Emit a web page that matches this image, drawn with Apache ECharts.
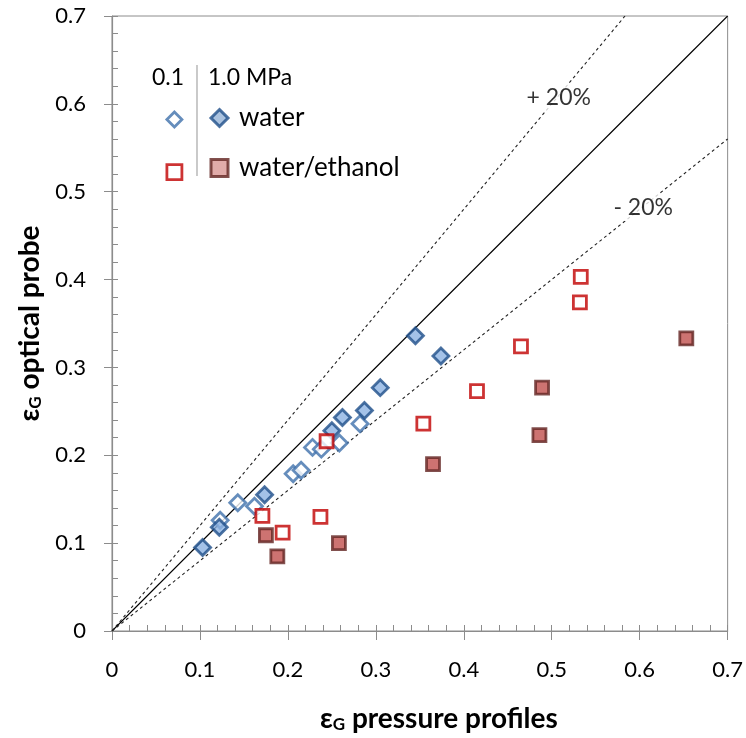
<!DOCTYPE html>
<html><head><meta charset="utf-8">
<script src="https://cdn.jsdelivr.net/npm/echarts@6/dist/echarts.min.js"></script>
<style>html,body{margin:0;padding:0;background:#fff}#c{width:746px;height:738px}</style>
</head><body><div id="c"></div>
<script>
// Data
const water01 = [[0.123,0.126],[0.143,0.146],[0.162,0.142],[0.206,0.179],[0.215,0.183],[0.228,0.209],[0.238,0.207],[0.2585,0.214],[0.282,0.236]];
const water10 = [[0.103,0.095],[0.122,0.118],[0.1735,0.155],[0.250,0.228],[0.262,0.243],[0.287,0.251],[0.305,0.277],[0.345,0.336],[0.374,0.313]];
const ethanol01 = [[0.171,0.131],[0.194,0.112],[0.237,0.130],[0.244,0.216],[0.354,0.236],[0.415,0.273],[0.465,0.324],[0.532,0.374],[0.533,0.403]];
const ethanol10 = [[0.175,0.109],[0.188,0.085],[0.258,0.100],[0.365,0.190],[0.486,0.223],[0.489,0.277],[0.653,0.333]];
const parityLine = [[0,0],[0.7,0.7]];
const plus20Line = [[0,0],[0.5833,0.7]];
const minus20Line = [[0,0],[0.7,0.56]];
const annotations = [{value:[0.508,0.607], text:'+ 20%'},{value:[0.604,0.482], text:'- 20%'}];
const axisMin = 0, axisMax = 0.7, majorStep = 0.1, minorStep = 0.02;

const FONT = 'Lato, "Open Sans", sans-serif';
const chart = echarts.init(document.getElementById('c'));
const openDiamond = {color:'#ffffff', borderColor:'#3f70ab', borderWidth:2.8};
const fillDiamond = {color:'#8db3e2', borderColor:'#1f4f8a', borderWidth:2.8};
const openSquare = {color:'#ffffff', borderColor:'#c00000', borderWidth:2.8};
const fillSquare = {color:'#c0504d', borderColor:'#632523', borderWidth:2.8};
const legFillDiamond = {color:'#95b3d7', borderColor:'#1f4f8a', borderWidth:3};
const legFillSquare = {color:'#d99694', borderColor:'#632523', borderWidth:3};

const gridCfg = {left:112, right:17, top:16, bottom:102, show:true, borderColor:'#8c8c8c', borderWidth:1};
const axisLineCfg = {lineStyle:{color:'#8c8c8c', width:1.2}};
const titleRich = {e:{fontFamily:FONT,fontSize:28,fontWeight:'bold',color:'#000'},
    s:{fontFamily:FONT,fontSize:17,fontWeight:'bold',color:'#000',padding:[12,0,0,0]},
    t:{fontFamily:FONT,fontSize:28,fontWeight:'bold',color:'#000'}};
const option = {
  animation:false,
  grid:gridCfg,
  xAxis:[{type:'value', min:axisMin, max:axisMax, interval:majorStep,
    axisLine:axisLineCfg, axisTick:{show:true, inside:false, length:9, lineStyle:{color:'#8c8c8c'}},
    splitLine:{show:false}, axisLabel:{fontFamily:FONT, fontSize:22, color:'#000', margin:28,
    formatter:v=>v===0?'0':v.toFixed(1)},
    name:'{e|ε}{s|G}{t| pressure profiles}', nameLocation:'middle', nameGap:73,
    nameTextStyle:{rich:titleRich, padding:[0,0,0,38]}},
    {type:'value', min:axisMin, max:axisMax, interval:minorStep, position:'bottom',
     axisLine:{show:false}, axisTick:{show:true, inside:true, length:6, lineStyle:{color:'#8c8c8c'}},
     axisLabel:{show:false}, splitLine:{show:false}}],
  yAxis:[{type:'value', min:axisMin, max:axisMax, interval:majorStep,
    axisLine:axisLineCfg, axisTick:{show:true, inside:false, length:8, lineStyle:{color:'#8c8c8c'}},
    splitLine:{show:false}, axisLabel:{fontFamily:FONT, fontSize:22, color:'#000', margin:26,
      formatter:v=>v===0?'0':v.toFixed(1)},
    name:'{e|ε}{s|G}{t| optical probe}', nameLocation:'middle', nameGap:68, nameRotate:90,
    nameTextStyle:{rich:titleRich}},
    {type:'value', min:axisMin, max:axisMax, interval:minorStep, position:'left',
     axisLine:{show:false}, axisTick:{show:true, inside:true, length:6, lineStyle:{color:'#8c8c8c'}},
     axisLabel:{show:false}, splitLine:{show:false}}],
  legend:[
    {orient:'vertical', left:165.5, top:110.5, padding:0, itemGap:35, itemWidth:15, itemHeight:15, formatter:()=>'',
     selectedMode:false, textStyle:{fontSize:14, lineHeight:14},
     data:[{name:'water 0.1 MPa', icon:'diamond', itemStyle:openDiamond},
           {name:'water/ethanol 0.1 MPa', icon:'rect', itemStyle:openSquare}]},
    {orient:'vertical', left:209.5, top:105, padding:0, itemGap:24, itemWidth:17, itemHeight:17, selectedMode:false,
     textStyle:{fontFamily:FONT, fontSize:26, color:'#000', padding:[0,0,0,6]},
     data:[{name:'water', icon:'diamond', itemStyle:legFillDiamond},
           {name:'water/ethanol', icon:'rect', itemStyle:legFillSquare}]}
  ],
  graphic:[
    {type:'text', left:152, top:66, style:{text:'0.1', font:'23px '+FONT, fill:'#000'}},
    {type:'text', left:208, top:66, style:{text:'1.0 MPa', font:'23px '+FONT, fill:'#000'}},
    {type:'line', shape:{x1:197, y1:65, x2:197, y2:176}, style:{stroke:'#a6a6a6', lineWidth:1.2}}
  ],
  series:[
    {type:'line', data:parityLine, symbol:'none', lineStyle:{color:'#000', width:1.1}, silent:true, z:1},
    {type:'line', data:plus20Line, symbol:'none', lineStyle:{color:'#222', width:1.1, type:[3,3]}, silent:true, z:1},
    {type:'line', data:minus20Line, symbol:'none', lineStyle:{color:'#222', width:1.1, type:[3,3]}, silent:true, z:1},
    {type:'scatter', name:'water 0.1 MPa', data:water01, symbol:'diamond', symbolSize:16, itemStyle:openDiamond, z:3},
    {type:'scatter', name:'water', data:water10, symbol:'diamond', symbolSize:16, itemStyle:fillDiamond, z:4},
    {type:'scatter', name:'water/ethanol 0.1 MPa', data:ethanol01, symbol:'rect', symbolSize:13, itemStyle:openSquare, z:5},
    {type:'scatter', name:'water/ethanol', data:ethanol10, symbol:'rect', symbolSize:13, itemStyle:fillSquare, z:4},
    {type:'scatter', data:annotations.map(a=>({value:a.value, name:a.text})), symbolSize:0, silent:true, z:6,
     label:{show:true, position:'inside', formatter:p=>p.name, fontFamily:FONT, fontSize:23, color:'#000',
       backgroundColor:'#fff', padding:[2,3]}}
  ]
};
chart.setOption(option);
</script></body></html>
